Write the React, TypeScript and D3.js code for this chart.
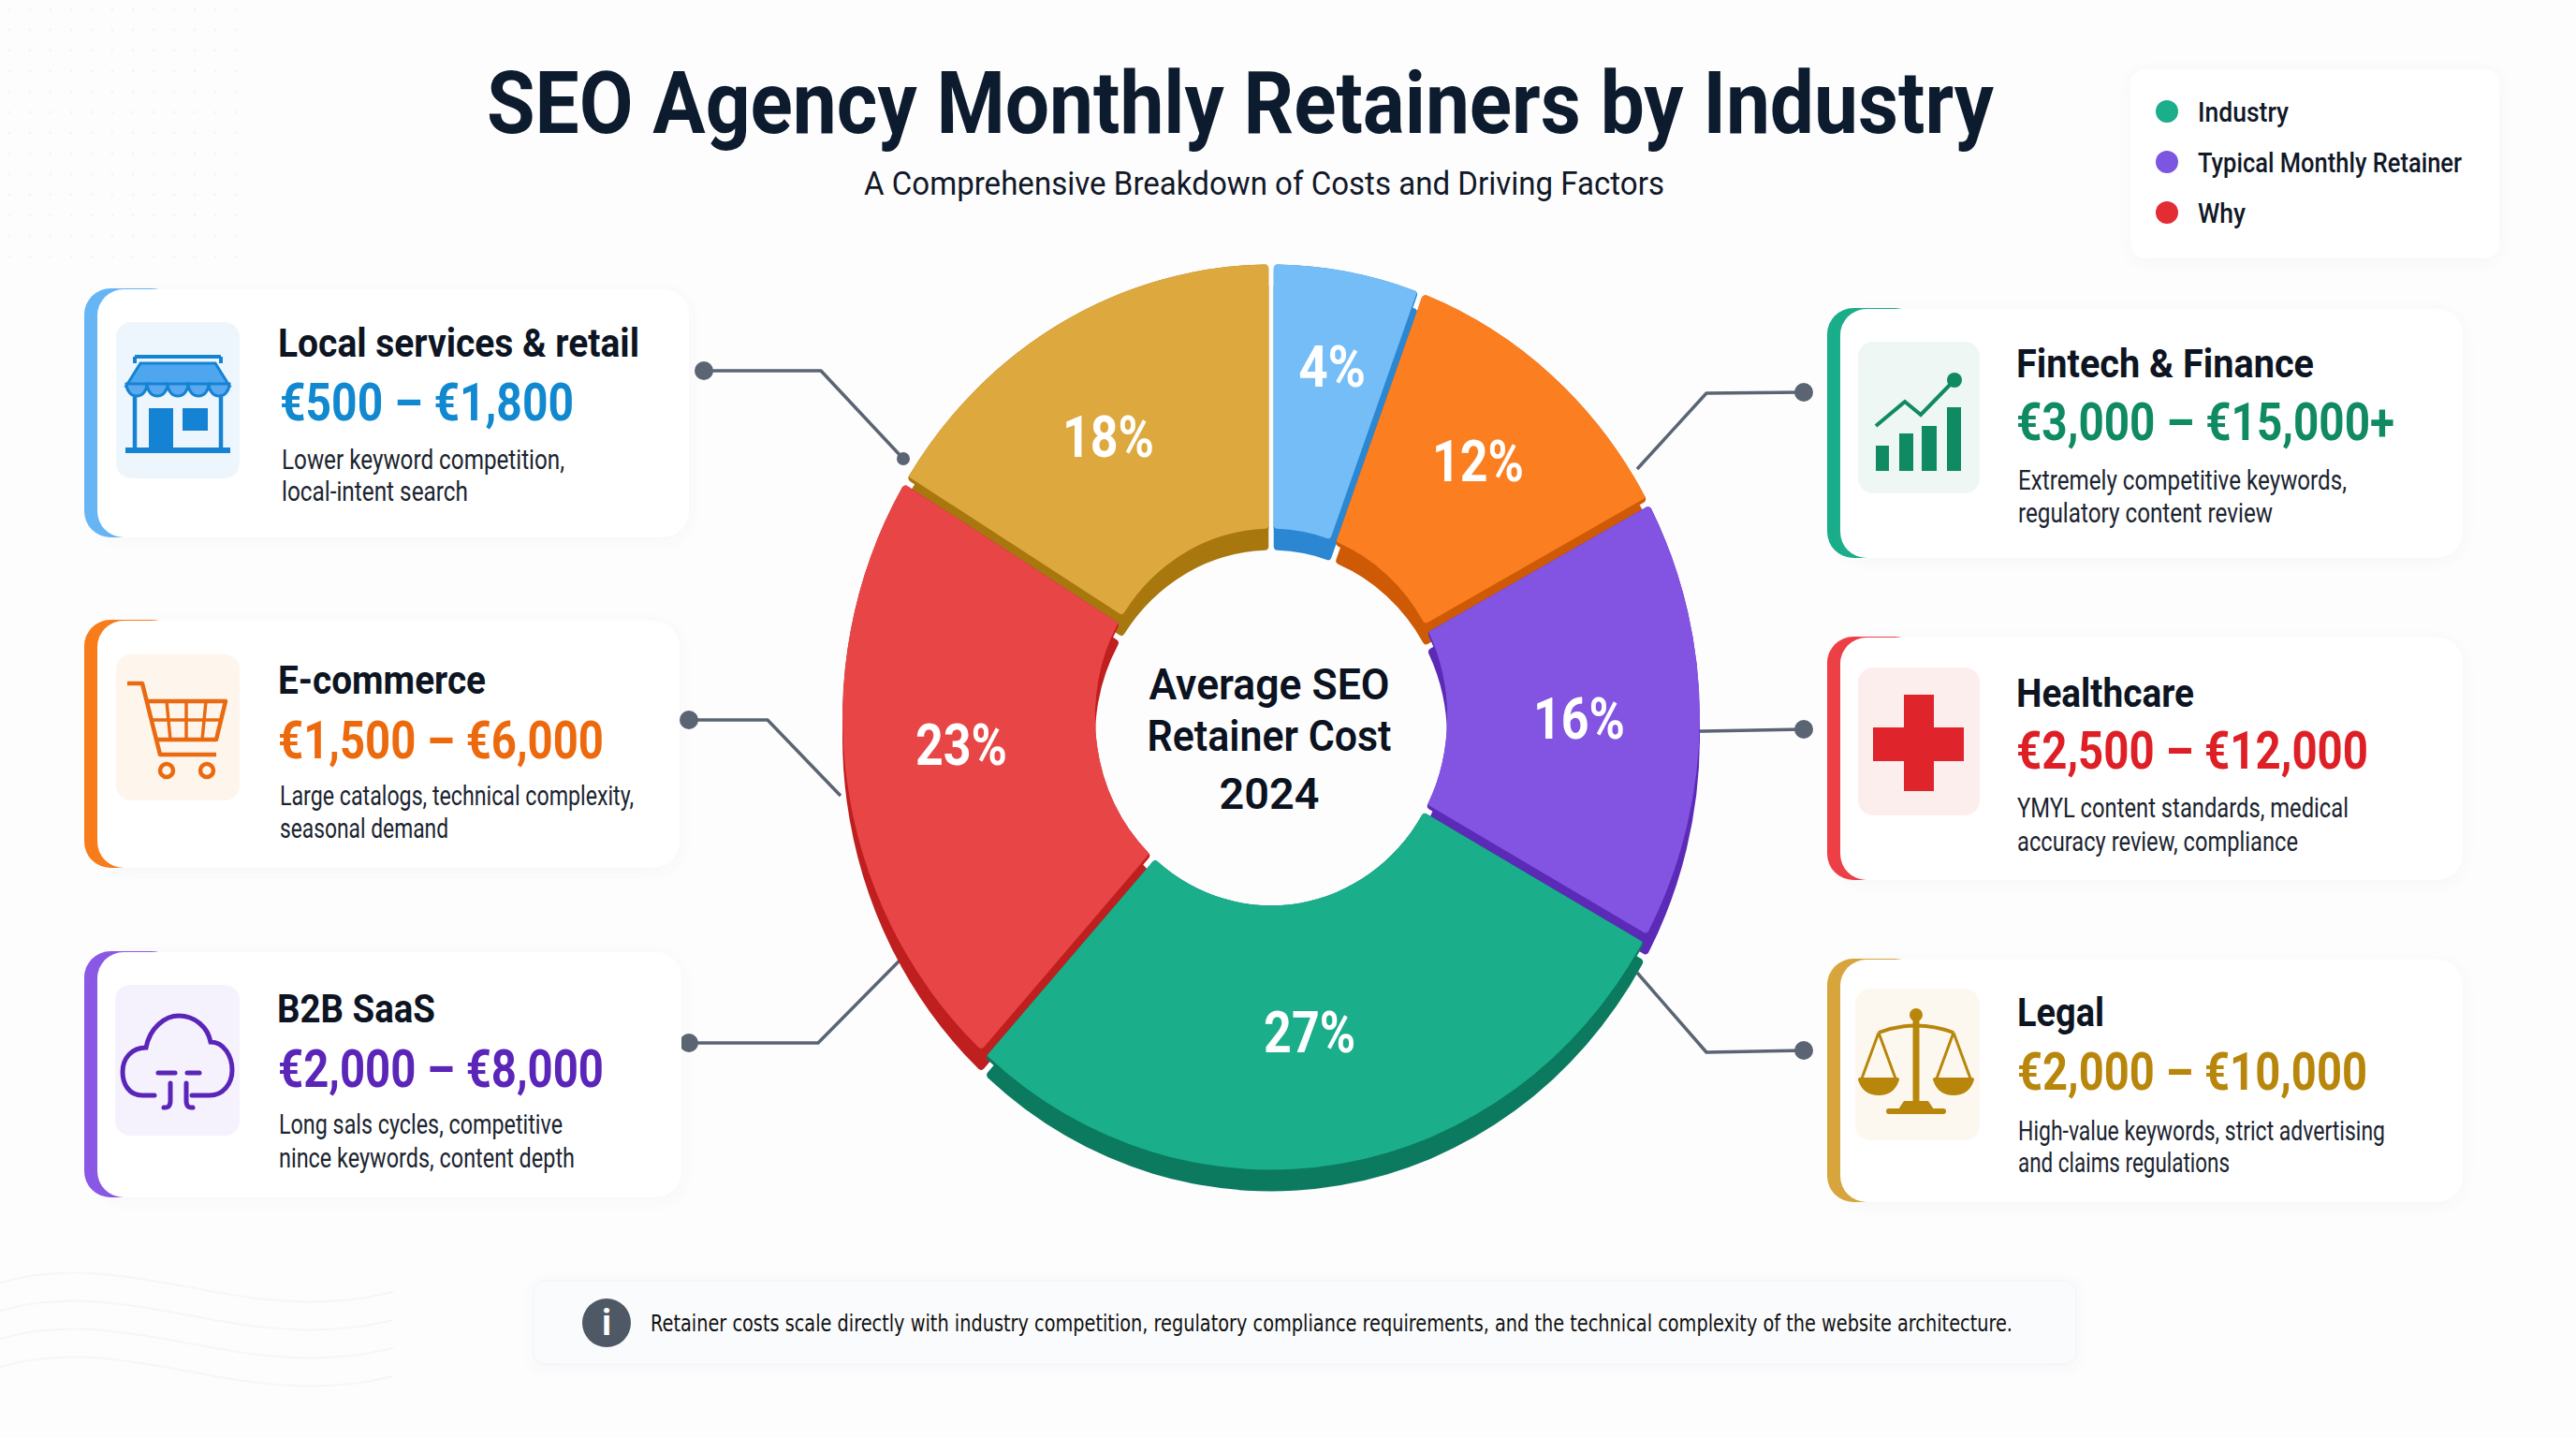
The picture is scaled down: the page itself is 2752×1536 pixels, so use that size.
import * as d3 from "d3";

const WIDTH = 2752;
const HEIGHT = 1536;
const FONT = "Roboto, 'Noto Sans', sans-serif";

// printed shares
const sharePct = [4, 12, 16, 27, 23, 18];
// wedge sizes as drawn in the picture (degrees), they are not proportional to the printed shares
const sliceDegrees = [20, 41, 57.5, 103.5, 79.5, 58.5];
const faceColors = ["#75bdf7", "#fb7f21", "#8353e2", "#1aae8b", "#e84646", "#dda83e"];
const wallColors = ["#2b87d1", "#cf5a06", "#5b2bb8", "#0b7a5f", "#bf1f1f", "#a8780f"];
const labelAngle = [10.4, 40.4, 90, 172.6, 265.5, 328.5];
const labelRadius = [361, 341, 329, 319, 332, 333];

const cardTitles = ["Local services & retail", "E-commerce", "B2B SaaS", "Fintech & Finance", "Healthcare", "Legal"];
const cardPrices = ["€500 – €1,800", "€1,500 – €6,000", "€2,000 – €8,000", "€3,000 – €15,000+", "€2,500 – €12,000", "€2,000 – €10,000"];
const cardLine1 = [
  "Lower keyword competition,",
  "Large catalogs, technical complexity,",
  "Long sals cycles, competitive",
  "Extremely competitive keywords,",
  "YMYL content standards, medical",
  "High-value keywords, strict advertising",
];
const cardLine2 = [
  "local-intent search",
  "seasonal demand",
  "nince keywords, content depth",
  "regulatory content review",
  "accuracy review, compliance",
  "and claims regulations",
];
const legendItems = ["Industry", "Typical Monthly Retainer", "Why"];
const legendColors = ["#1aae8b", "#7c55e0", "#e32c33"];

// card layout: box, icon box, text baselines and measured text widths
const cardBox = [
  [90, 308, 736, 574], [90, 662, 726, 927], [90, 1016, 728, 1279],
  [1952, 329, 2631, 596], [1952, 680, 2631, 940], [1952, 1024, 2631, 1284],
];
const iconBox = [
  [124, 344, 256, 511], [124, 699, 256, 855], [123, 1052, 256, 1213],
  [1985, 365, 2115, 527], [1985, 713, 2115, 871], [1982, 1056, 2115, 1218],
];
const accentColors = ["#66b6f6", "#f97c1a", "#8a58e6", "#1aae8b", "#ee3f45", "#d9a63c"];
const priceColors = ["#1189d0", "#ec6a0d", "#5a25b8", "#0f8a63", "#de1f26", "#b8860b"];
const iconBg = ["#eef6fd", "#fef5ec", "#f5f2fd", "#eef7f4", "#fdeeee", "#fdf8ef"];
const textX = [[297, 299, 301], [297, 297, 299], [296, 297, 298], [2154, 2154, 2156], [2154, 2154, 2155], [2155, 2155, 2156]];
const textY = [[381, 449, 501, 535], [741, 810, 860, 895], [1092, 1161, 1211, 1247], [403, 470, 523, 558], [755, 821, 873, 909], [1096, 1164, 1218, 1252]];
const titleW = [386, 222, 169, 318, 190, 93];
const priceW = [314, 348, 348, 404, 376, 374];
const line1W = [302, 378, 303, 351, 354, 392];
const line2W = [199, 180, 316, 272, 300, 226];

// leader lines from card to ring
const leaders = [
  [[752, 396], [877, 396], [965, 490]],
  [[736, 769], [820, 769], [898, 850]],
  [[736, 1114], [874, 1114], [962, 1025]],
  [[1927, 419], [1823, 420], [1749, 501]],
  [[1927, 779], [1819, 781], [1800, 781]],
  [[1927, 1122], [1823, 1124], [1749, 1039]],
];

const cx = 1358;
const cy = 768;
const ky = 1.06; // the ring is slightly taller than wide
const outerR = 458;
const innerR = 188;
const lift = 4; // thin dark lip on lower edges
const depth = 19;

const pie = d3.pie<number>().sort(null).padAngle(0.011).value((d) => d);
const slices = pie(sliceDegrees);
const arc = d3.arc<d3.PieArcDatum<number>>().innerRadius(innerR).outerRadius(outerR).cornerRadius(4);
const line = d3.line<number[]>().x((d) => d[0]).y((d) => d[1]);

function T({ x, y, w, size, weight = 400, fill = "#111827", family = FONT, anchor = "start", children }: any) {
  return (
    <text
      x={x}
      y={y}
      textLength={w}
      lengthAdjust={w ? "spacingAndGlyphs" : undefined}
      fontFamily={family}
      fontSize={size}
      fontWeight={weight}
      fill={fill}
      textAnchor={anchor}
    >
      {children}
    </text>
  );
}

function StoreIcon() {
  const c = "#1583d3";
  const scallops = d3.range(5);
  return (
    <g>
      <path d="M144 381 H236 M144 381 V388 M236 381 V388" stroke={c} strokeWidth={4} fill="none" />
      <path d="M150 388 H230 L245 412 H135 Z" fill="#4da6ee" stroke={c} strokeWidth={3} />
      {scallops.map((i) => (
        <path key={i} d={`M${135 + i * 22} 410 a11 13 0 0 0 22 0 Z`} fill="#5aa9f0" stroke={c} strokeWidth={3} />
      ))}
      <path d="M144 424 V481 M236 424 V481" stroke={c} strokeWidth={4.5} />
      <rect x={134} y={478} width={112} height={6} fill={c} />
      <rect x={159} y={436} width={26} height={45} fill={c} />
      <rect x={195} y={436} width={27} height={24} fill={c} />
    </g>
  );
}

function CartIcon() {
  const c = "#e96a10";
  return (
    <g fill="none" stroke={c} strokeWidth={4.5} strokeLinejoin="round">
      <path d="M136 730 H152 L171 806 H231" />
      <path d="M157 749 H241 L231 790 H167" />
      <path d="M161 769 H236 M178 749 L182 790 M199 749 V790 M220 749 L216 790" strokeWidth={3.5} />
      <circle cx={178} cy={823} r={7} />
      <circle cx={221} cy={823} r={7} />
    </g>
  );
}

function CloudIcon() {
  const c = "#5a25b8";
  return (
    <g fill="none" stroke={c} strokeWidth={5} strokeLinecap="round">
      <path d="M165 1170 H152 C138 1170 131 1158 131 1145 C131 1130 141 1119 156 1119 C160 1098 176 1085 191 1085 C208 1085 222 1097 225 1113 C239 1113 248 1128 248 1143 C248 1158 238 1170 224 1170 H205" />
      <path d="M169 1146 H187 M200 1146 H213" />
      <path d="M182 1157 V1176 Q182 1184 175 1183 M199 1157 V1176 Q199 1184 206 1183" />
    </g>
  );
}

function ChartIcon() {
  const c = "#0f8a63";
  return (
    <g fill={c}>
      <rect x={2004} y={476} width={14} height={27} />
      <rect x={2029} y={463} width={15} height={40} />
      <rect x={2053} y={455} width={16} height={48} />
      <rect x={2080} y={435} width={15} height={68} />
      <path d="M2004 455 L2035 429 L2052 443 L2088 406" fill="none" stroke={c} strokeWidth={4} />
      <circle cx={2088} cy={406} r={8} />
    </g>
  );
}

function CrossIcon() {
  return <path d="M2034 742 H2066 V777 H2098 V813 H2066 V845 H2034 V813 H2001 V777 H2034 Z" fill="#e0242c" />;
}

function ScalesIcon() {
  const c = "#b8860b";
  return (
    <g fill="none" stroke={c} strokeWidth={4} strokeLinejoin="round">
      <circle cx={2047} cy={1084} r={5} fill={c} />
      <path d="M2047 1086 V1178" strokeWidth={7} />
      <path d="M2035 1178 H2059 L2063 1184 H2031 Z" fill={c} />
      <path d="M2018 1187 H2076" strokeWidth={6} strokeLinecap="round" />
      <path d="M2007 1103 Q2047 1088 2087 1103" />
      <path d="M2007 1103 L1989 1152 M2007 1103 L2025 1152 M2087 1103 L2069 1152 M2087 1103 L2105 1152" strokeWidth={3} />
      <path d="M1987 1153 H2027 Q2022 1168 2007 1168 Q1992 1168 1987 1153 Z" fill={c} />
      <path d="M2067 1153 H2107 Q2102 1168 2087 1168 Q2072 1168 2067 1153 Z" fill={c} />
    </g>
  );
}

const icons = [StoreIcon, CartIcon, CloudIcon, ChartIcon, CrossIcon, ScalesIcon];

export default function App() {
  const xf = `translate(${cx},${cy}) scale(1,${ky})`;
  const dots = d3.range(0, 260, 22).flatMap((x) => d3.range(0, 280, 22).map((y) => [x + 10, y + 10]));

  return (
    <svg
      width={WIDTH}
      height={HEIGHT}
      viewBox={`0 0 ${WIDTH} ${HEIGHT}`}
      style={{ position: "absolute", left: 0, top: 0, display: "block" }}
    >
      <defs>
        <filter id="soft" x="-10%" y="-20%" width="120%" height="140%">
          <feDropShadow dx={0} dy={3} stdDeviation={7} floodColor="#64748b" floodOpacity={0.05} />
        </filter>
        {slices.map((s, i) => (
          <clipPath id={`lip-${i}`} key={i}>
            <path d={arc(s) ?? ""} transform={`translate(0,${-lift / ky})`} />
          </clipPath>
        ))}
      </defs>

      <rect width={WIDTH} height={HEIGHT} fill="#fdfdfe" />
      <g fill="#f3f5f8">
        {dots.map((d, i) => (
          <circle key={i} cx={d[0]} cy={d[1]} r={1.5} />
        ))}
      </g>
      <g fill="none" stroke="#f4f6f9" strokeWidth={2}>
        <path d="M0 1370 C140 1330 260 1420 420 1380" />
        <path d="M0 1400 C140 1360 260 1450 420 1410" />
        <path d="M0 1430 C140 1390 260 1480 420 1440" />
        <path d="M0 1460 C140 1420 260 1510 420 1470" />
      </g>

      {/* title */}
      <T x={520} y={142} w={1610} size={92} weight={700} fill="#0d1b2e">
        SEO Agency Monthly Retainers by Industry
      </T>
      <T x={923} y={208} w={855} size={35} weight={400}>
        A Comprehensive Breakdown of Costs and Driving Factors
      </T>

      {/* legend */}
      <rect x={2276} y={74} width={394} height={202} rx={16} fill="#fff" filter="url(#soft)" />
      {legendItems.map((name, i) => (
        <g key={name}>
          <circle cx={2315} cy={119 + i * 54} r={12} fill={legendColors[i]} />
          <T x={2348} y={130 + i * 54} w={[97, 282, 51][i]} size={29} weight={500}>
            {name}
          </T>
        </g>
      ))}

      {/* leader lines */}
      {leaders.map((pts, i) => (
        <g key={i}>
          <path d={line(pts) ?? ""} fill="none" stroke="#5a6472" strokeWidth={3.5} strokeLinejoin="round" />
          <circle cx={pts[0][0]} cy={pts[0][1]} r={10} fill="#5a6472" />
        </g>
      ))}
      <circle cx={leaders[0][2][0]} cy={leaders[0][2][1]} r={7} fill="#5a6472" />

      {/* cards */}
      {cardTitles.map((name, i) => {
        const [x0, y0, x1, y1] = cardBox[i];
        const [ix0, iy0, ix1, iy1] = iconBox[i];
        const Icon = icons[i];
        return (
          <g key={name}>
            <rect x={x0} y={y0} width={100} height={y1 - y0} rx={28} fill={accentColors[i]} />
            <rect x={x0 + 14} y={y0 + 1} width={x1 - x0 - 14} height={y1 - y0 - 1} rx={28} fill="#fff" filter="url(#soft)" />
            <rect x={ix0} y={iy0} width={ix1 - ix0} height={iy1 - iy0} rx={16} fill={iconBg[i]} />
            <Icon />
            <T x={textX[i][0]} y={textY[i][0]} w={titleW[i]} size={43} weight={700} fill="#0d1422">
              {name}
            </T>
            <T x={textX[i][1]} y={textY[i][1]} w={priceW[i]} size={56} weight={700} fill={priceColors[i]}>
              {cardPrices[i]}
            </T>
            <T x={textX[i][2]} y={textY[i][2]} w={line1W[i]} size={29} fill="#1b2430">
              {cardLine1[i]}
            </T>
            <T x={textX[i][2]} y={textY[i][3]} w={line2W[i]} size={29} fill="#1b2430">
              {cardLine2[i]}
            </T>
          </g>
        );
      })}

      {/* ring: extruded walls, dark lip, then the face */}
      <g transform={xf}>
        {slices.map((s, i) => (
          <path key={i} d={arc(s) ?? ""} transform={`translate(0,${depth / ky})`} fill={wallColors[i]} />
        ))}
        {slices.map((s, i) => (
          <path key={i} d={arc(s) ?? ""} fill={wallColors[i]} />
        ))}
        {slices.map((s, i) => (
          <g key={i} clipPath={`url(#lip-${i})`}>
            <path d={arc(s) ?? ""} fill={faceColors[i]} />
          </g>
        ))}
      </g>

      {sharePct.map((pct, i) => {
        const a = (labelAngle[i] * Math.PI) / 180;
        return (
          <T
            key={i}
            x={cx + labelRadius[i] * Math.sin(a)}
            y={cy - labelRadius[i] * ky * Math.cos(a) + 21}
            size={62}
            weight={700}
            fill="#fff"
            anchor="middle"
            w={pct < 10 ? 72 : 98}
          >
            {`${pct}%`}
          </T>
        );
      })}

      {/* centre text */}
      <T x={1356} y={747} w={257} size={47} weight={600} fill="#0b1220" anchor="middle">
        Average SEO
      </T>
      <T x={1356} y={802} w={261} size={47} weight={600} fill="#0b1220" anchor="middle">
        Retainer Cost
      </T>
      <T x={1356} y={864} w={107} size={47} weight={600} fill="#0b1220" anchor="middle">
        2024
      </T>

      {/* note bar */}
      <rect x={570} y={1368} width={1648} height={89} rx={12} fill="#fafbfc" stroke="#f0f2f5" filter="url(#soft)" />
      <circle cx={648} cy={1413} r={26} fill="#4f5966" />
      <T x={648} y={1426} size={38} weight={700} fill="#fff" anchor="middle">
        i
      </T>
      <T x={695} y={1422} w={1455} size={25} family="'DejaVu Sans', sans-serif" fill="#111">
        Retainer costs scale directly with industry competition, regulatory compliance requirements, and the technical complexity of the website architecture.
      </T>
    </svg>
  );
}
